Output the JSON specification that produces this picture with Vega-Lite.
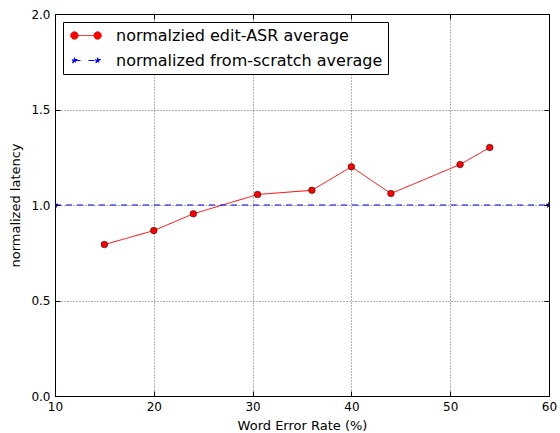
{
  "$schema": "https://vega.github.io/schema/vega-lite/v6.json",
  "width": 494,
  "height": 382,
  "autosize": {"type": "none"},
  "padding": {"left": 55, "top": 14, "right": 11, "bottom": 37},
  "background": "white",
  "config": {
    "font": "DejaVu Sans",
    "view": {"stroke": null},
    "axis": {
      "domainColor": "black",
      "domainWidth": 1,
      "tickColor": "black",
      "tickSize": -5,
      "labelFontSize": 12,
      "labelColor": "black",
      "labelFlush": false,
      "labelOverlap": false,
      "labelBound": false,
      "titleFontSize": 13,
      "titleFontWeight": "normal",
      "titleColor": "black",
      "gridColor": "#000000",
      "gridOpacity": 0.6,
      "gridDash": [1, 2],
      "gridWidth": 1
    },
    "legend": {
      "orient": "top-left",
      "offset": 8,
      "padding": 5,
      "strokeColor": "black",
      "fillColor": "white",
      "cornerRadius": 0,
      "labelFontSize": 16,
      "labelColor": "black",
      "labelLimit": 500,
      "labelOffset": 31,
      "symbolSize": 256,
      "rowPadding": 8
    }
  },
  "datasets": {
    "pts": [
      {"series": "normalzied edit-ASR average", "wer": 15, "lat": 0.793},
      {"series": "normalzied edit-ASR average", "wer": 20, "lat": 0.866},
      {"series": "normalzied edit-ASR average", "wer": 24, "lat": 0.954},
      {"series": "normalzied edit-ASR average", "wer": 30.5, "lat": 1.055},
      {"series": "normalzied edit-ASR average", "wer": 36, "lat": 1.077},
      {"series": "normalzied edit-ASR average", "wer": 40, "lat": 1.2},
      {"series": "normalzied edit-ASR average", "wer": 44, "lat": 1.06},
      {"series": "normalzied edit-ASR average", "wer": 51, "lat": 1.212},
      {"series": "normalzied edit-ASR average", "wer": 54, "lat": 1.301},
      {"series": "normalized from-scratch average", "wer": 10, "lat": 1.0},
      {"series": "normalized from-scratch average", "wer": 60, "lat": 1.0}
    ]
  },
  "data": {"name": "pts"},
  "layer": [
    {
      "encoding": {
        "x": {
          "field": "wer",
          "type": "quantitative",
          "scale": {"domain": [10, 60], "nice": false, "zero": false},
          "axis": {
            "orient": "bottom",
            "title": "Word Error Rate (%)",
            "values": [10, 20, 30, 40, 50, 60],
            "format": "d",
            "grid": true,
            "labelPadding": 10,
            "titlePadding": 7
          }
        },
        "y": {
          "field": "lat",
          "type": "quantitative",
          "scale": {"domain": [0, 2], "nice": false, "zero": false},
          "axis": {
            "orient": "left",
            "title": "normalized latency",
            "values": [0, 0.5, 1, 1.5, 2],
            "format": ".1f",
            "grid": true,
            "labelPadding": 10,
            "titlePadding": 8
          }
        }
      },
      "layer": [
        {
          "mark": {"type": "line", "strokeWidth": 1},
          "encoding": {
            "color": {
              "field": "series",
              "type": "nominal",
              "scale": {
                "domain": ["normalzied edit-ASR average", "normalized from-scratch average"],
                "range": ["#ff0000", "#0000ff"]
              },
              "legend": {
                "title": null,
                "encode": {
                  "symbols": {
                    "update": {
                      "shape": {"signal": "datum.value === 'normalzied edit-ASR average' ? 'M-0.72,0A0.46,0.46 0 1,0 0.2,0A0.46,0.46 0 1,0 -0.72,0Z M2.18,0A0.46,0.46 0 1,0 3.1,0A0.46,0.46 0 1,0 2.18,0Z M-0.26,0L2.64,0' : 'M-0.26,-0.375L-0.1758,-0.1159L0.0966,-0.1159L-0.1239,0.0443L-0.0395,0.3034L-0.26,0.1433L-0.4805,0.3034L-0.3961,0.0443L-0.6166,-0.1159L-0.3442,-0.1159Z M2.64,-0.375L2.7242,-0.1159L2.9966,-0.1159L2.7761,0.0443L2.8605,0.3034L2.64,0.1433L2.4195,0.3034L2.5039,0.0443L2.2834,-0.1159L2.5558,-0.1159Z M-0.26,0L0.5,0 M1.5,0L2.64,0'"},
                      "fill": {"signal": "datum.value === 'normalzied edit-ASR average' ? '#ff0000' : '#0000ff'"},
                      "stroke": {"signal": "datum.value === 'normalzied edit-ASR average' ? '#ff0000' : '#0000ff'"},
                      "strokeWidth": {"value": 1},
                      "strokeDash": {"value": [1, 0]},
                      "opacity": {"value": 1},
                      "fillOpacity": {"value": 1},
                      "strokeOpacity": {"value": 1}
                    }
                  }
                }
              }
            },
            "strokeDash": {
              "field": "series",
              "type": "nominal",
              "scale": {
                "domain": ["normalzied edit-ASR average", "normalized from-scratch average"],
                "range": [[1, 0], [6, 5]]
              },
              "legend": null
            }
          }
        },
        {
          "transform": [{"filter": "datum.series === 'normalzied edit-ASR average'"}],
          "mark": {"type": "point", "shape": "circle", "filled": true, "fill": "#ff0000", "stroke": "#000000", "strokeWidth": 0.5, "size": 44, "opacity": 1}
        },
        {
          "transform": [{"filter": "datum.series === 'normalized from-scratch average'"}],
          "mark": {"type": "point", "clip": true, "filled": true, "fill": "#0000ff", "stroke": "#000033", "strokeWidth": 0.5, "size": 40, "opacity": 1, "shape": "M0,-1L0.2245,-0.309L0.951,-0.309L0.363,0.118L0.588,0.809L0,0.382L-0.588,0.809L-0.363,0.118L-0.951,-0.309L-0.2245,-0.309Z"}
        }
      ]
    },
    {
      "mark": {"type": "point", "opacity": 0},
      "encoding": {
        "x": {
          "field": "wer",
          "type": "quantitative",
          "axis": {"orient": "top", "title": null, "labels": false, "values": [10, 20, 30, 40, 50, 60], "grid": false}
        },
        "y": {
          "field": "lat",
          "type": "quantitative",
          "axis": {"orient": "right", "title": null, "labels": false, "values": [0, 0.5, 1, 1.5, 2], "grid": false}
        }
      }
    }
  ],
  "resolve": {"axis": {"x": "independent", "y": "independent"}}
}
